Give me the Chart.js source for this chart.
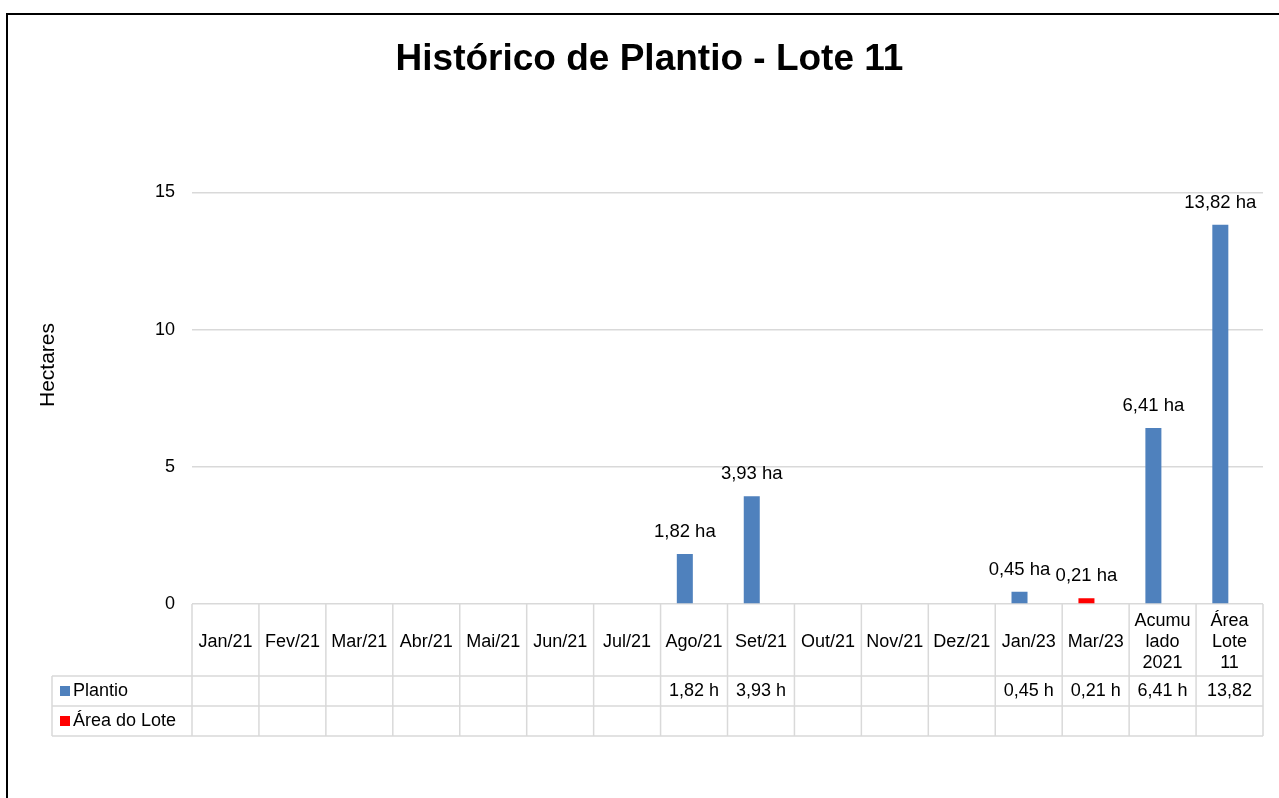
<!DOCTYPE html>
<html>
<head>
<meta charset="utf-8">
<script src="https://cdn.jsdelivr.net/npm/chart.js@4.4.1/dist/chart.umd.min.js"></script>
<style>
  body { margin: 0; background: #fff; overflow: hidden; }
  #wrap { position: relative; width: 1279px; height: 798px; }
  #frame { position: absolute; left: 6px; top: 13px; width: 1300px; height: 800px;
           border-left: 2px solid #000; border-top: 2px solid #000; pointer-events: none; }
</style>
</head>
<body>
<div id="wrap">
  <canvas id="chart" width="1279" height="798"></canvas>
  <div id="frame"></div>
</div>
<script>
const categorias = ["Jan/21", "Fev/21", "Mar/21", "Abr/21", "Mai/21", "Jun/21", "Jul/21",
                    "Ago/21", "Set/21", "Out/21", "Nov/21", "Dez/21", "Jan/23", "Mar/23",
                    ["Acumu", "lado", "2021"], ["Área", "Lote", "11"]];
const plantio = [null, null, null, null, null, null, null, 1.82, 3.93, null, null, null, 0.45, 0.21, 6.41, 13.82];
const areaLote = [null, null, null, null, null, null, null, null, null, null, null, null, null, null, null, null];
const destaque = ["Mar/23"];
const yTicks = [0, 5, 10, 15];

const AZUL = "#4f81bd";
const VERMELHO = "#ff0000";
const FONTE = "'Liberation Sans', Arial, sans-serif";

function fmt(v) {
    return v.toFixed(2).replace(".", ",");
}

// rótulos em cima das barras
const rotulos = {
    id: "rotulos",
    afterDatasetsDraw(chart) {
        const ctx = chart.ctx;
        ctx.save();
        ctx.font = "18.5px " + FONTE;
        ctx.fillStyle = "#000";
        ctx.textAlign = "center";
        ctx.textBaseline = "middle";
        chart.getDatasetMeta(0).data.forEach((bar, i) => {
            if (plantio[i] == null) return;
            ctx.fillText(fmt(plantio[i]) + " ha", bar.x, bar.y - 22);
        });
        ctx.restore();
    }
};

// tabela de dados embaixo do gráfico (estilo Excel)
const tabela = {
    id: "tabela",
    afterDraw(chart) {
        const ctx = chart.ctx;
        const x = chart.scales.x;
        const n = categorias.length;
        const w = (x.right - x.left) / n;
        const rowH = 30;
        const y0 = x.bottom;
        const esq = 52;

        ctx.save();
        ctx.strokeStyle = "#d9d9d9";
        ctx.lineWidth = 1.5;
        const linha = (a, b, c, d) => { ctx.beginPath(); ctx.moveTo(a, b); ctx.lineTo(c, d); ctx.stroke(); };

        for (let i = 0; i <= n; i++) {
            const px = x.left + i * w;
            linha(px, x.top, px, y0 + 2 * rowH);
        }
        linha(esq, y0, esq, y0 + 2 * rowH);
        for (let r = 0; r <= 2; r++) {
            linha(esq, y0 + r * rowH, x.right, y0 + r * rowH);
        }

        // nomes das séries com marcador
        ctx.font = "18px " + FONTE;
        ctx.textBaseline = "middle";
        ctx.textAlign = "left";
        chart.data.datasets.forEach((ds, r) => {
            const cy = y0 + r * rowH + rowH / 2;
            ctx.fillStyle = ds.legendColor;
            ctx.fillRect(60, cy - 5, 10, 10);
            ctx.fillStyle = "#000";
            ctx.fillText(ds.label, 73, cy);
        });

        // valores (cortados como no Excel quando não cabem)
        ctx.textAlign = "center";
        const maxW = w - 14;
        plantio.forEach((v, i) => {
            if (v == null) return;
            let txt = fmt(v) + " ha";
            while (ctx.measureText(txt).width > maxW && txt.length > 1) {
                txt = txt.slice(0, -1).trimEnd();
            }
            ctx.fillText(txt, x.left + (i + 0.5) * w, y0 + rowH / 2);
        });

        // título do eixo Y
        ctx.translate(48, 365);
        ctx.rotate(-Math.PI / 2);
        ctx.font = "21px " + FONTE;
        ctx.fillText("Hectares", 0, 0);
        ctx.restore();
    }
};

new Chart(document.getElementById("chart"), {
    type: "bar",
    data: {
        labels: categorias,
        datasets: [{
            label: "Plantio",
            data: plantio,
            legendColor: AZUL,
            backgroundColor: ctx => destaque.includes(categorias[ctx.dataIndex]) ? VERMELHO : AZUL,
            borderWidth: 0,
            categoryPercentage: 0.55,
            barPercentage: 0.87
        }, {
            label: "Área do Lote",
            data: areaLote,
            legendColor: VERMELHO,
            backgroundColor: VERMELHO,
            borderWidth: 0,
            categoryPercentage: 0.55,
            barPercentage: 0.87
        }]
    },
    options: {
        responsive: false,
        animation: false,
        layout: { padding: { left: 36, right: 16, top: 0, bottom: 122 } },
        plugins: {
            legend: { display: false },
            tooltip: { enabled: false },
            title: {
                display: true,
                text: "Histórico de Plantio - Lote 11",
                color: "#000",
                font: { family: FONTE, size: 37, weight: "bold", lineHeight: 1.2 },
                padding: { top: 38, bottom: 110 }
            }
        },
        scales: {
            x: {
                grid: { display: false },
                border: { display: false },
                ticks: {
                    color: "#000",
                    font: { family: FONTE, size: 18, lineHeight: 1.17 },
                    autoSkip: false,
                    maxRotation: 0,
                    crossAlign: "center",
                    padding: 9
                },
                afterFit(scale) { scale.height = 72; }
            },
            y: {
                min: 0,
                max: 15,
                afterBuildTicks(scale) { scale.ticks = yTicks.map(v => ({ value: v })); },
                grid: { color: "#d9d9d9", lineWidth: 1.5, drawTicks: false },
                border: { display: false },
                ticks: {
                    color: "#000",
                    font: { family: FONTE, size: 18 },
                    padding: 17
                },
                afterFit(scale) { scale.width = 156; }
            }
        }
    },
    plugins: [rotulos, tabela]
});
</script>
</body>
</html>
